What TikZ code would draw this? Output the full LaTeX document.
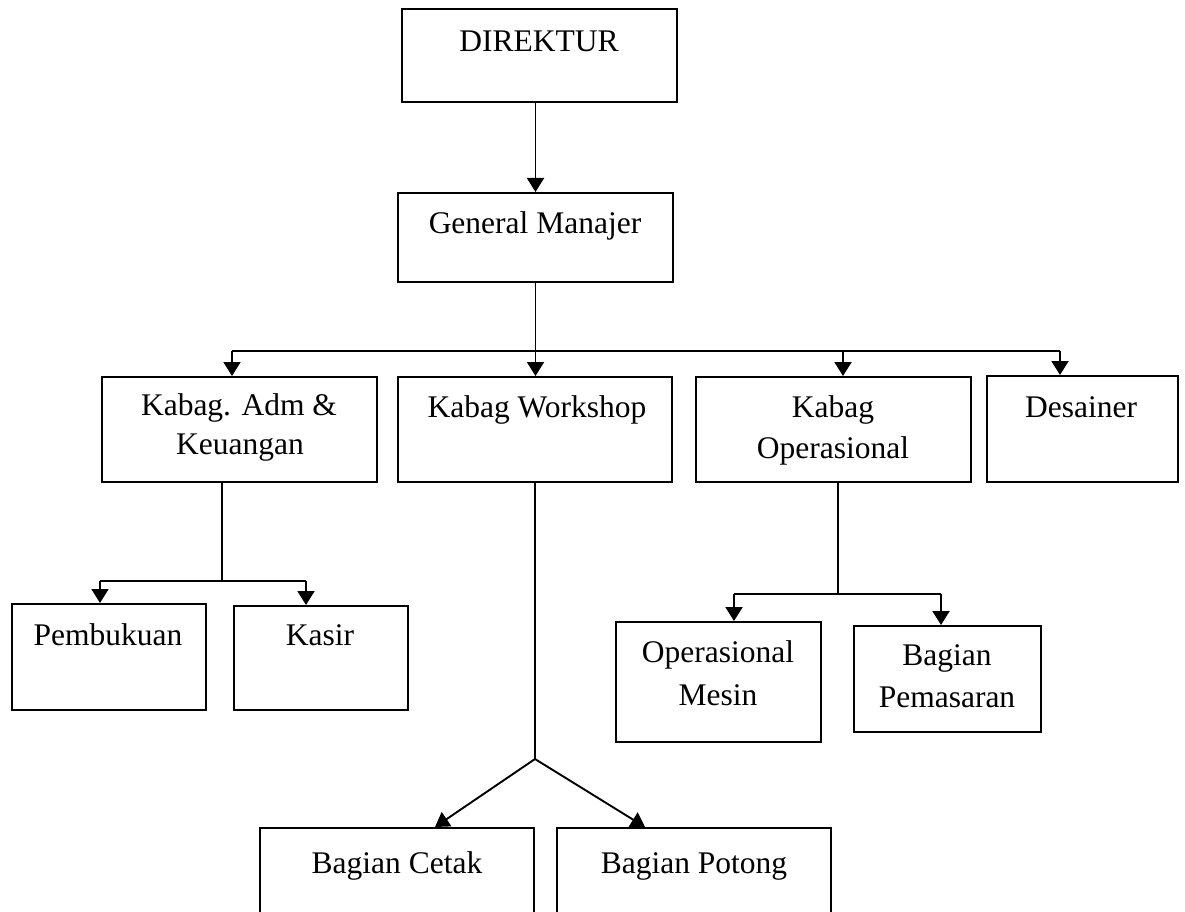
\documentclass[tikz,border=0pt]{standalone}
\usepackage{fontspec}
\setmainfont{Liberation Serif}
\usetikzlibrary{arrows.meta}
\tikzset{
  orgbox/.style={draw=black, line width=2pt, inner sep=0pt, fill=none},
  txt/.style={anchor=base, inner sep=0pt, font=\fontsize{31.5}{41}\selectfont},
  conn/.style={draw=black, line width=1.9pt},
  arr/.style={conn, -{Triangle[width=17pt,length=14pt]}}
}
\begin{document}
\begin{tikzpicture}[x=1pt,y=-1pt]
\clip (0,0) rectangle (1185,912);
\fill[white] (0,0) rectangle (1185,912);
% boxes
\node[orgbox, minimum width=275pt, minimum height=93pt]  (dir)   at (539.5,55.5) {};
\node[orgbox, minimum width=275pt, minimum height=89pt]  (gm)    at (535.5,237.5) {};
\node[orgbox, minimum width=275pt, minimum height=105pt] (adm)   at (239.5,429.5) {};
\node[orgbox, minimum width=274pt, minimum height=105pt] (ws)    at (535,429.5) {};
\node[orgbox, minimum width=275pt, minimum height=105pt] (op)    at (833.5,429.5) {};
\node[orgbox, minimum width=191pt, minimum height=106pt] (des)   at (1082.5,429) {};
\node[orgbox, minimum width=194pt, minimum height=106pt] (pemb)  at (109,657) {};
\node[orgbox, minimum width=174pt, minimum height=104pt] (kasir) at (321,658) {};
\node[orgbox, minimum width=205pt, minimum height=120pt] (mesin) at (718.5,682) {};
\node[orgbox, minimum width=187pt, minimum height=106pt] (pem)   at (947.5,679) {};
\node[orgbox, minimum width=274pt, minimum height=112pt] (cetak) at (397,884) {};
\node[orgbox, minimum width=274pt, minimum height=112pt] (potong) at (694,884) {};
% texts
\node[txt] (tdir)  at (539,52)  {DIREKTUR};
\node[txt] (tgm)   at (535,233) {General Manajer};
\node[txt] (tadm1) at (239,415) {Kabag. Adm \&};
\node[txt] (tadm2) at (240,454) {Keuangan};
\node[txt] (tws)   at (537,417) {Kabag Workshop};
\node[txt] (top1)  at (833,417) {Kabag};
\node[txt] (top2)  at (833,458) {Operasional};
\node[txt] (tdes)  at (1081,417) {Desainer};
\node[txt] (tpemb) at (108,645) {Pembukuan};
\node[txt] (tkas)  at (320,645) {Kasir};
\node[txt] (tmes1) at (718,662) {Operasional};
\node[txt] (tmes2) at (718,705) {Mesin};
\node[txt] (tpem1) at (947,665) {Bagian};
\node[txt] (tpem2) at (947,707) {Pemasaran};
\node[txt] (tcet)  at (397,873) {Bagian Cetak};
\node[txt] (tpot)  at (694,873) {Bagian Potong};
% junction coordinates
\coordinate (b1) at (232,351);
\coordinate (b2) at (535.5,351);
\coordinate (b3) at (843,351);
\coordinate (b4) at (1060,351);
\coordinate (a0) at (222,581);
\coordinate (a1) at (100,581);
\coordinate (a2) at (306,581);
\coordinate (o0) at (838,594);
\coordinate (o1) at (734,594);
\coordinate (o2) at (941,594);
\coordinate (w0) at (535,759);
\coordinate (wl) at (435,828);
\coordinate (wr) at (645,828);
% connectors
\draw[arr] (dir.south -| gm.north) -- (gm.north);
\draw[conn] (gm.south) -- (b2);
\draw[conn] (b1) -- (b4);
\draw[arr] (b1) -- (b1 |- adm.north);
\draw[arr] (b2) -- (b2 |- ws.north);
\draw[arr] (b3) -- (b3 |- op.north);
\draw[arr] (b4) -- (b4 |- des.north);
\draw[conn] (a0 |- adm.south) -- (a0);
\draw[conn] (a1) -- (a2);
\draw[arr] (a1) -- (a1 |- pemb.north);
\draw[arr] (a2) -- (a2 |- kasir.north);
\draw[conn] (o0 |- op.south) -- (o0);
\draw[conn] (o1) -- (o2);
\draw[arr] (o1) -- (o1 |- mesin.north);
\draw[arr] (o2) -- (o2 |- pem.north);
\draw[conn] (ws.south) -- (w0);
\draw[arr] (w0) -- (wl |- cetak.north);
\draw[arr] (w0) -- (wr |- potong.north);
\end{tikzpicture}
\end{document}
